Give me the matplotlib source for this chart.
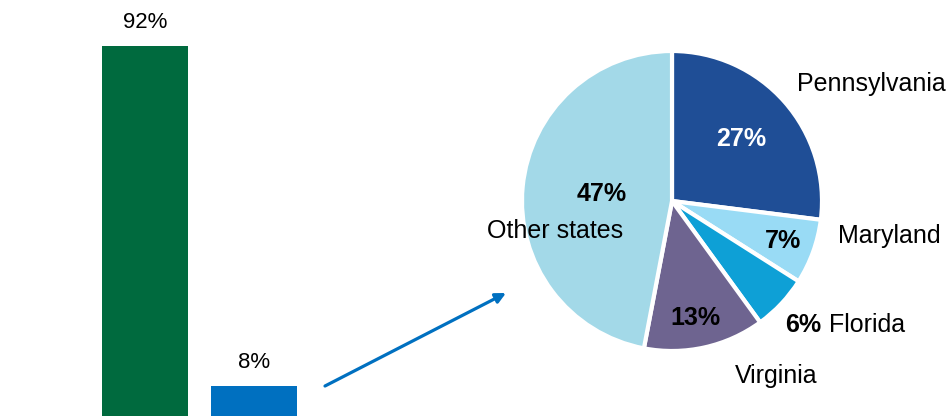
import matplotlib
matplotlib.use("Agg")
import matplotlib.pyplot as plt

plt.rcParams['font.family'] = ['Liberation Sans', 'DejaVu Sans']

# left: share split
bar_vals = [92, 8]
bar_colors = ['#006A3E', '#0070C0']

# right: breakdown of the 8%
states = ['Pennsylvania', 'Maryland', 'Florida', 'Virginia', 'Other states']
shares = [27, 7, 6, 13, 47]
pie_colors = ['#1F4E96', '#99DBF5', '#0EA0D6', '#6E6490', '#A3D9E8']

W, H = 948, 416
fig = plt.figure(figsize=(W / 100, H / 100), dpi=100)

# bars
axb = fig.add_axes([0, 0, 330 / W, 1])
x = [0, 1]
axb.bar(x, bar_vals, width=86 / 109, color=bar_colors)
for xi, v in zip(x, bar_vals):
    axb.text(xi, v + 3.2, f"{v}%", ha='center', va='bottom', fontsize=16)
axb.set_xlim(-145 / 109, (330 - 145) / 109)
axb.set_ylim(0.5, 416 / 4.048 + 0.5)
axb.axis('off')

# pie + labels in pixel coords
ax = fig.add_axes([0, 0, 1, 1])
cx, cy, r = 672, H - 201, 150
ax.pie(shares, colors=pie_colors, startangle=90, counterclock=False,
       center=(cx, cy), radius=r, frame=True,
       wedgeprops=dict(edgecolor='white', linewidth=3))
ax.set_xlim(0, W)
ax.set_ylim(0, H)
ax.set_aspect('auto')
ax.axis('off')

fs = 18
ax.text(741, H - 139, "27%", color='white', fontweight='bold', fontsize=fs, ha='center', va='center')
ax.text(783, H - 241, "7%", fontweight='bold', fontsize=fs, ha='center', va='center')
ax.text(695, H - 318, "13%", fontweight='bold', fontsize=fs, ha='center', va='center')
ax.text(602, H - 194, "47%", fontweight='bold', fontsize=fs, ha='center', va='center')
ax.text(785, H - 325, "6%", fontweight='bold', fontsize=fs, ha='left', va='center')

ax.text(797, H - 84, states[0], fontsize=fs, ha='left', va='center')
ax.text(838, H - 236, states[1], fontsize=fs, ha='left', va='center')
ax.text(829, H - 325, states[2], fontsize=fs, ha='left', va='center')
ax.text(735, H - 376, states[3], fontsize=fs, ha='left', va='center')
ax.text(487, H - 231, states[4], fontsize=fs, ha='left', va='center')

ax.annotate("", xy=(506, H - 293), xytext=(325, H - 386),
            arrowprops=dict(arrowstyle='-|>', color='#0070C0', lw=2.3,
                            mutation_scale=15, shrinkA=0, shrinkB=0))

fig.savefig("out.png", dpi=100)
